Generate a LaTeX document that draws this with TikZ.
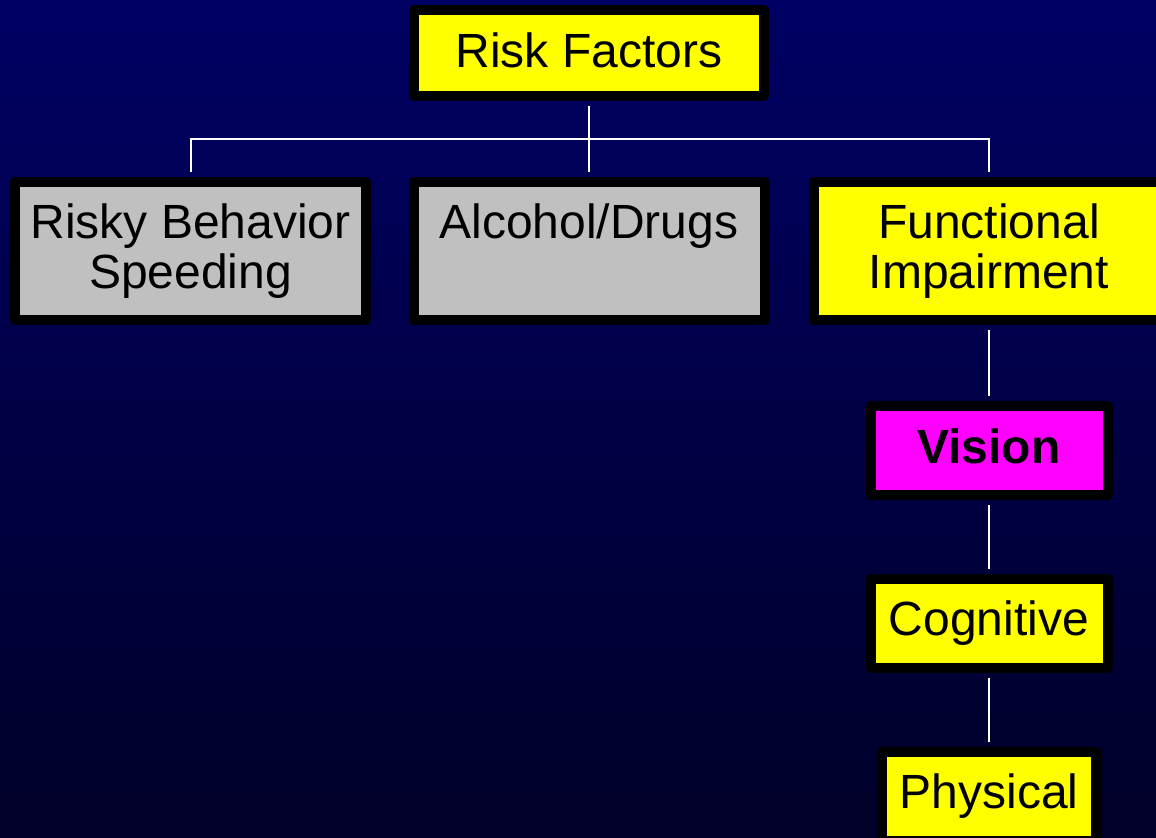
\documentclass[tikz,border=0pt]{standalone}
\usepackage{fontspec}
\setmainfont{Liberation Sans}
\usetikzlibrary{positioning}

\definecolor{navytop}{RGB}{0,0,100}
\definecolor{navybot}{RGB}{0,0,40}
\definecolor{boxyellow}{RGB}{255,255,0}
\definecolor{boxgray}{RGB}{192,192,192}
\definecolor{boxmagenta}{RGB}{255,0,255}

\begin{document}
\begin{tikzpicture}[x=0.5pt, y=-0.5pt,
    box/.style={draw=black, line width=5pt, line join=round, inner sep=0pt,
        align=center, font=\fontsize{24}{25}\selectfont},
    bigbox/.style={box, minimum width=175.5pt, text height=28pt, text depth=41pt},
    twolines/.style={text height=53pt, text depth=16pt},
    smallbox/.style={box, minimum width=118.5pt, text height=28.5pt, text depth=16pt},
    link/.style={draw=white, line width=1pt, shorten <=2.5pt, shorten >=2.5pt}]
        % Nền xanh đậm
        \useasboundingbox (0,0) rectangle (1156,837);
        \clip (0,0) rectangle (1156,837);
        \shade[top color=navytop, middle color=navytop!85!navybot, bottom color=navybot] (0,0) rectangle (1156,837);

        % Ô gốc
        \node[box, fill=boxyellow, minimum width=175pt, text height=28.5pt, text depth=14.5pt] (risk) at (589,53) {Risk Factors};

        % Hàng thứ hai
        \node[bigbox, twolines, fill=boxgray] (risky) at (190.5,251) {Risky Behavior\\Speeding};
        \node[bigbox, fill=boxgray] (alcohol) at (589,251) {Alcohol/Drugs};
        \node[bigbox, twolines, fill=boxyellow] (func) at (989,251) {Functional\\Impairment};

        % Cột bên phải
        \node[smallbox, fill=boxmagenta, font=\fontsize{24}{25}\selectfont\bfseries] (vision) at (989,450.5) {Vision};
        \node[smallbox, fill=boxyellow] (cognitive) at (989,623) {Cognitive};
        \node[smallbox, fill=boxyellow, minimum width=107pt] (physical) at (989,796) {Physical};

        % Đường nối
        \coordinate (bar) at (589,139);
        \draw[link] (risk) -- (alcohol);
        \draw[link] (risky.north) |- (bar) -| (func.north);
        \draw[link] (func) -- (vision);
        \draw[link] (vision) -- (cognitive);
        \draw[link] (cognitive) -- (physical);
    \end{tikzpicture}
\end{document}
